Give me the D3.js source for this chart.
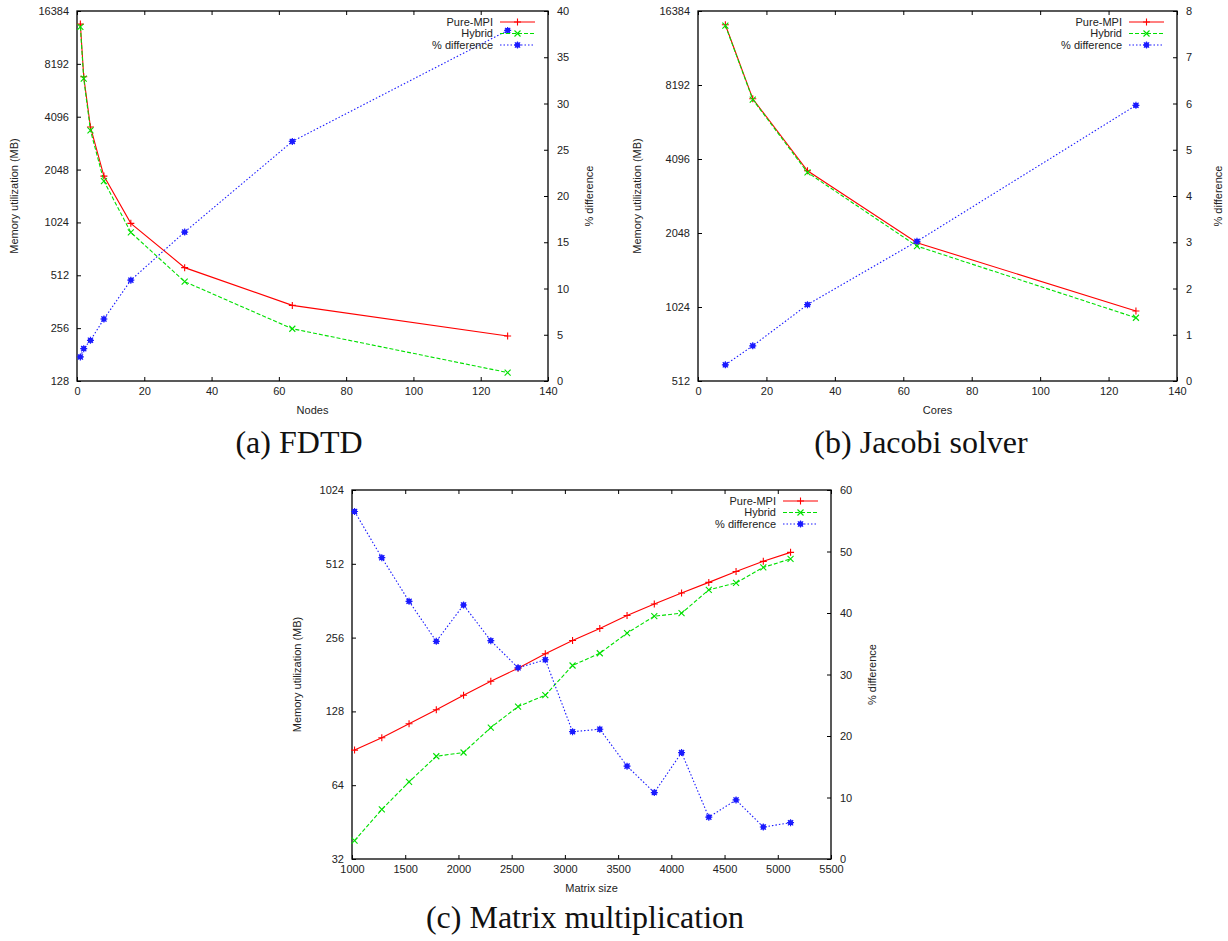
<!DOCTYPE html>
<html lang="en">
<head>
<meta charset="UTF-8">
<script src="https://d3js.org/d3.v7.min.js"></script>
<style>
    body {margin: 0; background: #fff;}
    svg text {font-family: "Liberation Sans", Arial, sans-serif; fill: #222;}
    .title {font-family: "Liberation Serif", "Times New Roman", serif; fill: #111;}
</style>
</head>
<body>
<svg id="chart" width="1228" height="941"></svg>
<script>
// ---- data ----
const fdtdNodes = [1, 2, 4, 8, 16, 32, 64, 128];
const fdtdPureMPI = [13800, 6920, 3580, 1880, 1012, 566, 345, 231];
const fdtdHybrid = [13300, 6740, 3425, 1762, 898, 471, 254, 143];
const fdtdDiff = [2.6, 3.5, 4.4, 6.7, 10.9, 16.1, 25.9, 37.9];

const jacobiCores = [8, 16, 32, 64, 128];
const jacobiPureMPI = [14400, 7200, 3670, 1870, 986];
const jacobiHybrid = [14300, 7150, 3610, 1811, 926];
const jacobiDiff = [0.35, 0.76, 1.65, 3.02, 5.96];

const matSizes = [1024, 1280, 1536, 1792, 2048, 2304, 2560, 2816, 3072, 3328, 3584, 3840, 4096, 4352, 4608, 4864, 5120];
const matPureMPI = [89, 100, 114, 130, 149, 170, 192, 220, 249, 279, 315, 351, 389, 430, 476, 524, 570];
const matHybrid = [38, 51, 66, 84, 87, 110, 134, 149, 197, 221, 267, 313, 322, 401, 428, 495, 536];
const matDiff = [56.5, 49.0, 41.9, 35.4, 41.3, 35.5, 31.1, 32.4, 20.7, 21.1, 15.1, 10.8, 17.3, 6.8, 9.6, 5.2, 5.9];

const seriesNames = ["Pure-MPI", "Hybrid", "% difference"];

const fdtdXTicks = [0, 20, 40, 60, 80, 100, 120, 140];
const fdtdYTicks = [128, 256, 512, 1024, 2048, 4096, 8192, 16384];
const fdtdY2Ticks = [0, 5, 10, 15, 20, 25, 30, 35, 40];
const jacobiXTicks = [0, 20, 40, 60, 80, 100, 120, 140];
const jacobiYTicks = [512, 1024, 2048, 4096, 8192, 16384];
const jacobiY2Ticks = [0, 1, 2, 3, 4, 5, 6, 7, 8];
const matXTicks = [1000, 1500, 2000, 2500, 3000, 3500, 4000, 4500, 5000, 5500];
const matYTicks = [32, 64, 128, 256, 512, 1024];
const matY2Ticks = [0, 10, 20, 30, 40, 50, 60];

// ---- styles ----
const styles = [
    {color: "#ff0000", dash: null, mark: "plus"},
    {color: "#00e000", dash: "4,2", mark: "cross"},
    {color: "#1a1aff", dash: "1.5,2", mark: "star"}
];

const svg = d3.select("#chart");

function marker(g, type, x, y, color) {
    let p;
    if (type === "plus") p = "M-3.5,0H3.5M0,-3.5V3.5";
    else if (type === "cross") p = "M-3,-3L3,3M-3,3L3,-3";
    else p = "M-3.5,0H3.5M0,-3.5V3.5M-2.6,-2.6L2.6,2.6M-2.6,2.6L2.6,-2.6M-1.8,-1.8H1.8V1.8H-1.8Z";
    g.append("path")
        .attr("transform", "translate(" + x + "," + y + ")")
        .attr("d", p)
        .attr("fill", type === "star" ? color : "none")
        .attr("stroke", color)
        .attr("stroke-width", type === "star" ? 1.2 : 1.1);
}

function panel(cfg) {
    const g = svg.append("g");
    const x = d3.scaleLinear().domain(cfg.xDomain).range([cfg.left, cfg.right]);
    const y = d3.scaleLog().base(2).domain([cfg.yTicks[0], cfg.yTicks[cfg.yTicks.length - 1]]).range([cfg.bottom, cfg.top]);
    const y2 = d3.scaleLinear().domain([0, cfg.y2Ticks[cfg.y2Ticks.length - 1]]).range([cfg.bottom, cfg.top]);

    const axes = [
        g.append("g").attr("transform", "translate(0," + cfg.bottom + ")")
            .call(d3.axisBottom(x).tickValues(cfg.xTicks).tickFormat(d3.format("d")).tickSizeInner(-4).tickSizeOuter(0).tickPadding(6)),
        g.append("g").attr("transform", "translate(0," + cfg.top + ")")
            .call(d3.axisTop(x).tickValues(cfg.xTicks).tickFormat("").tickSizeInner(-4).tickSizeOuter(0)),
        g.append("g").attr("transform", "translate(" + cfg.left + ",0)")
            .call(d3.axisLeft(y).tickValues(cfg.yTicks).tickFormat(d3.format("d")).tickSizeInner(-4).tickSizeOuter(0).tickPadding(8)),
        g.append("g").attr("transform", "translate(" + cfg.right + ",0)")
            .call(d3.axisRight(y2).tickValues(cfg.y2Ticks).tickFormat(d3.format("d")).tickSizeInner(-4).tickSizeOuter(0).tickPadding(9))
    ];
    axes.forEach(a => {
        a.select(".domain").remove();
        a.selectAll("line").attr("stroke", "#000");
        a.selectAll("text").attr("font-size", 11).attr("font-family", "Liberation Sans, Arial, sans-serif").attr("fill", "#222");
    });

    g.append("rect")
        .attr("x", cfg.left).attr("y", cfg.top)
        .attr("width", cfg.right - cfg.left).attr("height", cfg.bottom - cfg.top)
        .attr("fill", "none").attr("stroke", "#000").attr("stroke-width", 1.3);

    // axis titles
    g.append("text").attr("x", (cfg.left + cfg.right) / 2).attr("y", cfg.bottom + 33)
        .attr("text-anchor", "middle").attr("font-size", 11).text(cfg.xLabel);
    g.append("text").attr("transform", "translate(" + (cfg.left - cfg.yLabelOff) + "," + (cfg.top + cfg.bottom) / 2 + ") rotate(-90)")
        .attr("text-anchor", "middle").attr("dy", "0.35em").attr("font-size", 11).text("Memory utilization (MB)");
    g.append("text").attr("transform", "translate(" + (cfg.right + 41) + "," + (cfg.top + cfg.bottom) / 2 + ") rotate(-90)")
        .attr("text-anchor", "middle").attr("dy", "0.35em").attr("font-size", 11).text("% difference");

    // series
    const series = [
        {vals: cfg.pure, sc: y},
        {vals: cfg.hybrid, sc: y},
        {vals: cfg.diff, sc: y2}
    ];
    series.forEach((s, i) => {
        const st = styles[i];
        const pts = cfg.xs.map((d, j) => [x(d), s.sc(s.vals[j])]);
        g.append("path").attr("d", d3.line()(pts))
            .attr("fill", "none").attr("stroke", st.color).attr("stroke-width", 1.1)
            .attr("stroke-dasharray", st.dash);
        pts.forEach(p => marker(g, st.mark, p[0], p[1], st.color));
    });

    // legend
    seriesNames.forEach((name, i) => {
        const st = styles[i];
        const ly = cfg.top + 11 + i * 11.5;
        g.append("text").attr("x", cfg.right - 55).attr("y", ly).attr("dy", "0.35em")
            .attr("text-anchor", "end").attr("font-size", 11).text(name);
        g.append("line").attr("x1", cfg.right - 48).attr("x2", cfg.right - 13).attr("y1", ly).attr("y2", ly)
            .attr("stroke", st.color).attr("stroke-width", 1.1).attr("stroke-dasharray", st.dash);
        marker(g, st.mark, cfg.right - 30.5, ly, st.color);
    });

    svg.append("text").attr("class", "title")
        .attr("x", cfg.titleX).attr("y", cfg.titleY)
        .attr("text-anchor", "middle").attr("font-size", 32).text(cfg.title);
}

panel({
    left: 77, right: 548, top: 11, bottom: 381,
    xDomain: [0, 140], xTicks: fdtdXTicks, yTicks: fdtdYTicks, y2Ticks: fdtdY2Ticks,
    xs: fdtdNodes, pure: fdtdPureMPI, hybrid: fdtdHybrid, diff: fdtdDiff,
    xLabel: "Nodes", yLabelOff: 63, title: "(a) FDTD", titleX: 299, titleY: 453
});
panel({
    left: 698, right: 1177, top: 11, bottom: 381,
    xDomain: [0, 140], xTicks: jacobiXTicks, yTicks: jacobiYTicks, y2Ticks: jacobiY2Ticks,
    xs: jacobiCores, pure: jacobiPureMPI, hybrid: jacobiHybrid, diff: jacobiDiff,
    xLabel: "Cores", yLabelOff: 61, title: "(b) Jacobi solver", titleX: 921, titleY: 453
});
panel({
    left: 352, right: 831, top: 490, bottom: 859,
    xDomain: [1000, 5500], xTicks: matXTicks, yTicks: matYTicks, y2Ticks: matY2Ticks,
    xs: matSizes, pure: matPureMPI, hybrid: matHybrid, diff: matDiff,
    xLabel: "Matrix size", yLabelOff: 55, title: "(c) Matrix multiplication", titleX: 585, titleY: 928
});
</script>
</body>
</html>
